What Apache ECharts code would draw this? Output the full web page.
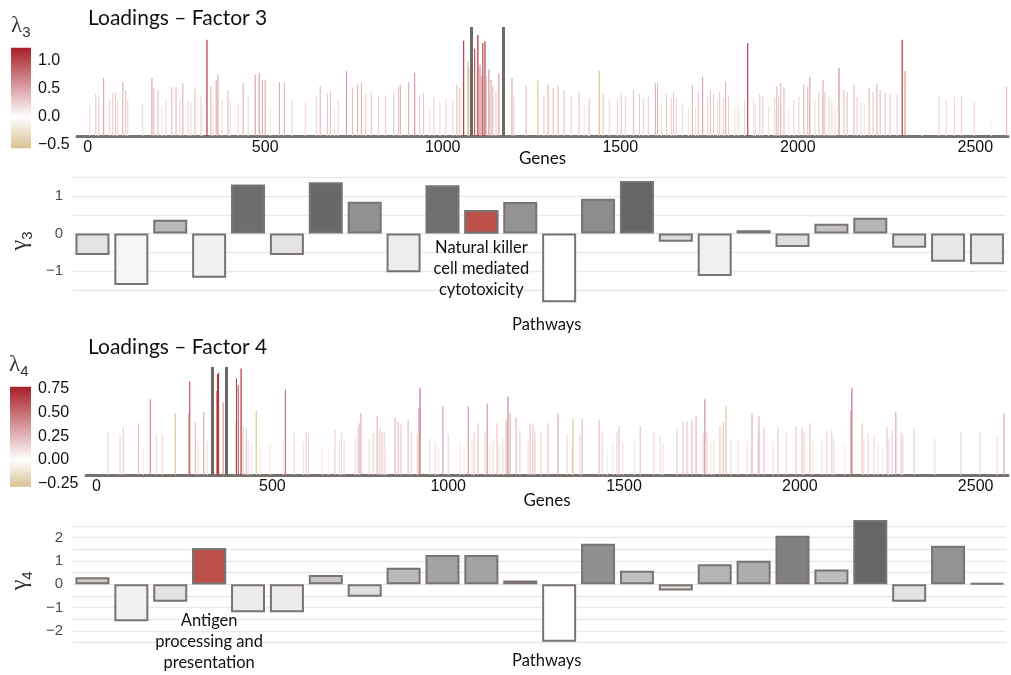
<!DOCTYPE html>
<html><head><meta charset="utf-8">
<script src="https://cdn.jsdelivr.net/npm/echarts@6/dist/echarts.min.js"></script>
<style>html,body{margin:0;padding:0;background:#fff}#c{width:1011px;height:675px}</style>
</head><body><div id="c"></div>
<script>
// ---------------- DATA ----------------
const geneTicks = [0, 500, 1000, 1500, 2000, 2500];
const geneRange = [-30, 2592];

// Factor 3 loadings: [gene index, loading] (negative = tan)
const f3Loadings = [
[6,0.375],[23,0.525],[31,0.49],[45,0.725],[62,0.45],[71,0.54],[79,0.55],[85,0.45],[99,0.675],[107,0.575],[113,0.46],[155,0.41],[181,0.725],[186,0.6],[198,0.575],[209,0.375],[220,0.45],[237,0.61],[249,0.61],[260,0.46],[268,0.66],[283,0.45],[291,0.425],[302,0.59],[319,0.49],[322,0.36],[336,1.2],[347,0.625],[353,0.41],[362,0.7],[367,0.76],[379,0.45],[395,0.575],[401,0.45],[424,0.4],[438,0.66],[452,0.49],[472,0.76],[483,0.79],[492,0.7],[500,0.7],[514,0.36],[540,0.675],[554,0.66],[576,0.45],[613,0.425],[644,0.49],[655,0.625],[675,0.54],[684,0.56],[695,0.36],[706,0.45],
[729,0.81],[746,0.6],[760,0.64],[771,0.66],[783,0.525],[799,0.54],[819,0.5],[839,0.5],[862,0.54],[876,0.61],[881,0.64],[904,0.675],[921,0.79],[935,0.51],[946,0.54],[963,0.36],[975,0.49],[992,0.425],[1009,0.46],[1028,0.45],[1040,0.64],[1048,0.6],[1059,1.19],[1071,-0.94],[1073,-0.86],[1090,1.09],[1099,1.26],[1105,0.89],[1110,0.75],[1113,1.16],[1119,1.18],[1122,0.74],[1130,0.83],[1136,0.7],[1141,0.625],[1150,0.55],[1158,0.78],[1195,0.725],[1201,0.49],[1235,0.625],[1268,-0.7],[1285,0.51],[1297,0.64],[1311,0.6],[1325,0.625],[1342,0.575],[1362,0.51],[1384,0.55],[1398,0.375],[1410,0.39],[1413,0.475],[1441,-0.81],[1452,0.525],[1469,0.46],[1492,0.45],[1503,0.54],[1514,0.49],[1537,0.575],[1554,0.525],[1565,0.475],[1579,0.49],[1599,0.66],[1605,0.66],[1616,0.41],[1630,0.525],
[1644,0.475],[1650,0.55],[1658,0.475],[1675,0.41],[1692,0.35],[1703,0.64],[1712,0.36],[1720,0.55],[1732,0.74],[1746,0.49],[1754,0.575],[1763,0.525],[1774,0.45],[1780,0.55],[1791,0.475],[1797,0.675],[1805,0.51],[1822,0.35],[1833,0.375],[1850,0.45],[1859,1.16],[1876,0.45],[1881,0.39],[1893,0.525],[1901,0.49],[1918,0.375],[1935,0.475],[1941,0.625],[1946,0.49],[1952,0.66],[1961,0.61],[1975,0.36],[1989,0.45],[2003,0.49],[2017,0.64],[2028,0.625],[2034,0.74],[2048,0.45],[2059,0.55],[2071,0.7],[2076,0.55],[2088,0.49],[2096,0.45],[2105,0.36],[2116,0.85],[2130,0.575],[2139,0.55],[2158,0.64],[2167,0.49],[2178,0.425],[2187,0.41],[2201,0.6],[2212,0.55],[2223,0.65],[2232,0.575],[2246,0.55],[2260,0.525],[2280,0.525],[2294,1.2],[2302,0.81],[2350,0.175],[2398,0.5],[2418,0.45],[2441,0.49],[2461,0.5],[2497,0.425],[2545,0.2],[2588,0.61]
];
// Factor 4 loadings
const f4Loadings = [
[33,0.31],[67,0.29],[76,0.34],[119,0.37],[133,0.2],[153,0.54],[170,0.29],[187,0.29],[224,-0.44],[262,0.44],[265,0.67],[281,0.38],[289,0.24],[305,0.45],[315,0.24],[342,0.6],[344,0.72],[347,0.73],[360,0.52],[397,0.38],[398,0.69],[403,0.64],[411,0.76],[417,0.34],[426,0.34],[431,0.26],[440,0.23],[454,-0.46],[465,0.2],[494,0.22],[531,0.25],[537,0.61],[562,0.3],[588,0.24],[596,0.31],[602,0.3],[642,0.2],[659,0.19],[678,0.32],[690,0.24],
[696,0.3],[704,0.25],[736,0.26],[744,0.34],[747,0.37],[752,0.44],[775,0.26],[787,0.3],[798,0.42],[806,0.34],[812,0.31],[818,0.31],[824,0.19],[849,0.41],[858,0.38],[866,0.36],[886,0.39],[895,0.31],[912,0.29],[917,0.48],[920,0.62],[948,0.26],[963,0.24],[971,0.2],[985,0.49],[1000,0.29],[1034,0.23],[1045,0.21],[1057,0.49],[1068,0.25],[1074,0.31],[1085,0.37],[1105,0.31],[1111,0.51],[1119,0.22],[1128,0.26],[1139,0.37],[1145,0.22],[1156,0.26],[1165,0.39],[1170,0.56],[1176,0.44],[1193,0.41],[1204,0.32],[1227,0.24],[1233,0.37],[1241,0.36],[1247,0.31],[1264,0.31],[1284,0.37],[1312,0.44],[1338,0.29],[1352,0.24],[1355,-0.4],[1375,0.29],[1381,0.4],[1429,0.39],[1438,0.31],[1452,0.18],[1469,0.23],[1480,0.31],[1486,0.35],[1497,0.23],[1529,0.24],[1546,0.35],[1585,0.31],[1603,0.28],
[1611,0.23],[1651,0.33],[1668,0.38],[1679,0.38],[1693,0.39],[1705,0.42],[1725,0.3],[1730,0.54],[1736,0.31],[1747,0.24],[1756,0.24],[1773,0.35],[1782,0.38],[1790,-0.49],[1804,0.25],[1824,0.25],[1850,0.24],[1864,0.44],[1881,0.3],[1884,0.42],[1898,0.34],[1924,0.24],[1938,0.34],[1961,0.3],[1989,0.35],[2006,0.34],[2012,0.31],[2029,0.37],[2037,0.24],[2063,0.24],[2077,0.31],[2091,0.32],[2097,0.26],[2128,0.21],[2145,0.46],[2148,0.62],[2177,0.37],[2182,0.26],[2194,0.3],[2211,0.29],[2222,0.23],[2236,0.2],[2248,0.34],[2253,0.26],[2262,0.32],[2273,0.45],[2288,0.31],[2293,0.29],[2325,0.33],[2384,0.26],[2458,0.31],[2512,0.31],[2561,0.27],[2581,0.44]
];
const f3PathwayBounds = [1080, 1170];
const f4PathwayBounds = [329, 369];
const f3ColorbarRange = [-0.56, 1.23];
const f4ColorbarRange = [-0.28, 0.77];
const f3ColorbarTicks = [-0.5, 0, 0.5, 1.0];
const f4ColorbarTicks = [-0.25, 0, 0.25, 0.5, 0.75];
const f3LoadMax = 1.36;
const f4LoadMax = 0.771;

const pathways = [1,2,3,4,5,6,7,8,9,10,11,12,13,14,15,16,17,18,19,20,21,22,23,24];
const gamma3 = [-0.57,-1.37,0.37,-1.18,1.31,-0.57,1.37,0.85,-1.03,1.29,0.62,0.84,-1.83,0.93,1.40,-0.22,-1.13,0.085,-0.36,0.26,0.42,-0.38,-0.75,-0.82];
const gamma4 = [0.30,-1.58,-0.75,1.55,-1.20,-1.20,0.40,-0.53,0.71,1.26,1.26,0.17,-2.46,1.74,0.58,-0.26,0.86,1.01,2.09,0.64,2.76,-0.75,1.66,0.05];
const gamma3Highlight = 10;
const gamma4Highlight = 3;
const gamma3Label = 'Natural killer\ncell mediated\ncytotoxicity';
const gamma4Label = 'Antigen\nprocessing and\npresentation';
const gamma3Range = [-1.9, 1.5];
const gamma4Range = [-2.5, 2.8];
const gamma3Grid = [-1.5, -1, -0.5, 0, 0.5, 1, 1.5];
const gamma4Grid = [-2.5, -2, -1.5, -1, -0.5, 0, 0.5, 1, 1.5, 2, 2.5];
const gamma3Ticks = [-1, 0, 1];
const gamma4Ticks = [-2, -1, 0, 1, 2];

// ---------------- STYLE HELPERS ----------------
const RED = [168, 30, 38], TAN = [218, 194, 145], WHITE = [255, 255, 255];
const TXT = '#111';
function mix(a, b, t) { t = Math.max(0, Math.min(1, t)); return 'rgb(' + a.map((x, i) => Math.round(x + (b[i] - x) * t)).join(',') + ')'; }
function loadColor(v, r) {
  const t = v >= 0 ? v / r[1] : v / r[0];
  const tt = Math.pow(Math.max(0, Math.min(1, t)), 1.7);
  return v >= 0 ? mix(WHITE, RED, tt) : mix(WHITE, TAN, tt);
}
function grayFor(v, arr) {
  const mx = Math.max(...arr), mn = Math.min(...arr);
  const g = Math.round(v >= 0 ? 215 - 113 * v / mx : 215 + 40 * v / mn);
  return 'rgb(' + g + ',' + g + ',' + g + ')';
}
const minus = s => String(s).replace('-', '\u2212');

function loadingSeries(xi, yi, loads, bounds, cbRange) {
  return {
    type: 'bar', xAxisIndex: xi, yAxisIndex: yi, barWidth: 1.1, z: 2,
    data: loads.map(d => ({ value: [d[0], Math.abs(d[1])], itemStyle: { color: loadColor(d[1], cbRange) } })),
    markLine: { silent: true, symbol: 'none', animation: false, label: { show: false }, z: 6,
      lineStyle: { color: '#6d6967', width: 3, type: 'solid' },
      data: bounds.map(g => ({ xAxis: g })) }
  };
}
function colorbarSeries(xi, yi, r) {
  return {
    type: 'custom', xAxisIndex: xi, yAxisIndex: yi, silent: true,
    data: [[0, r[0], r[1]]],
    renderItem: (params, api) => {
      const p0 = api.coord([0, api.value(1)]);
      const p1 = api.coord([1, api.value(2)]);
      const z = (0 - r[0]) / (r[1] - r[0]);
      return { type: 'rect', shape: { x: p0[0], y: p1[1], width: p1[0] - p0[0], height: p0[1] - p1[1] },
        style: { fill: new echarts.graphic.LinearGradient(0, 1, 0, 0, [
          { offset: 0, color: mix(WHITE, TAN, 1) }, { offset: z, color: '#ffffff' }, { offset: 1, color: mix(WHITE, RED, 1) }]) } };
    }
  };
}
function gammaSeries(xi, yi, vals, grid, hl, label, labelDist) {
  return [
    { type: 'line', xAxisIndex: xi, yAxisIndex: yi, data: vals, showSymbol: false, silent: true,
      lineStyle: { opacity: 0 }, z: 0,
      markLine: { silent: true, symbol: 'none', animation: false, label: { show: false }, z: 0,
        lineStyle: { color: '#e9e9e9', width: 1.3, type: 'solid' }, data: grid.map(v => ({ yAxis: v })) } },
    { type: 'bar', xAxisIndex: xi, yAxisIndex: yi, barWidth: 34, barGap: '-100%', z: 10,
      itemStyle: { borderColor: '#7a7370', borderWidth: 2 },
      data: vals.map(v => ({ value: v, itemStyle: { color: grayFor(v, vals) } })) },
    { type: 'bar', xAxisIndex: xi, yAxisIndex: yi, barWidth: 34, barGap: '-100%', z: 11,
      itemStyle: { color: '#bc4f47', borderColor: '#7a7370', borderWidth: 2 },
      label: { show: true, position: 'bottom', distance: labelDist, formatter: label,
        fontFamily: 'Lato', fontSize: 16.5, lineHeight: 21, color: TXT },
      data: vals.map((v, i) => i === hl ? v : '-') }
  ];
}
function geneXAxis(idx, nameGap) {
  return { gridIndex: idx, type: 'value', min: geneRange[0], max: geneRange[1],
    axisLine: { show: true, onZero: false, lineStyle: { color: '#767270', width: 3 } },
    axisTick: { show: false }, splitLine: { show: false },
    axisLabel: { customValues: geneTicks, margin: 4, fontSize: 16, color: TXT, fontFamily: 'Liberation Sans',
      formatter: v => String(v) },
    name: 'Genes', nameLocation: 'middle', nameGap: nameGap, nameMoveOverlap: false,
    nameTextStyle: { fontFamily: 'Lato', fontSize: 17, color: TXT } };
}
function cbYAxes(idx, r, ticks, dec) {
  return [
    { gridIndex: idx, type: 'value', min: r[0], max: r[1], position: 'right',
      axisLine: { show: false }, splitLine: { show: false },
      axisTick: { show: true, inside: true, length: 4, customValues: ticks, lineStyle: { color: '#ffffff', width: 1 } },
      axisLabel: { customValues: ticks, margin: 7, fontSize: 16, color: TXT, fontFamily: 'Liberation Sans',
        formatter: v => minus(v.toFixed(dec)) } },
    { gridIndex: idx, type: 'value', min: r[0], max: r[1], position: 'left',
      axisLine: { show: false }, splitLine: { show: false }, axisLabel: { show: false },
      axisTick: { show: true, inside: true, length: 4, customValues: ticks, lineStyle: { color: '#ffffff', width: 1 } } }
  ];
}
function gammaYAxis(idx, r, ticks, sub) {
  return { gridIndex: idx, type: 'value', min: r[0], max: r[1],
    axisLine: { show: false }, axisTick: { show: false }, splitLine: { show: false },
    axisLabel: { customValues: ticks, margin: 10, fontSize: 15, color: '#4d4d4d', fontFamily: 'Liberation Sans',
      formatter: v => minus(v) },
    name: '{g|\u03b3}{s|' + sub + '}', nameLocation: 'middle', nameRotate: 90, nameGap: 33,
    nameTextStyle: { rich: {
      g: { fontSize: 24, fontFamily: 'Liberation Serif', fontWeight: 'normal', color: '#333', lineHeight: 30, verticalAlign: 'middle' },
      s: { fontSize: 15, fontFamily: 'Liberation Sans', fontWeight: 'normal', color: '#333', lineHeight: 15, verticalAlign: 'bottom' } } } };
}
function catXAxis(idx, nameGap) {
  return { gridIndex: idx, type: 'category', data: pathways,
    axisLine: { show: false, onZero: false }, axisTick: { show: false }, axisLabel: { show: false },
    name: 'Pathways', nameLocation: 'middle', nameGap: nameGap,
    nameTextStyle: { fontFamily: 'Lato', fontSize: 16.5, color: TXT, padding: [0, 0, 0, 14] } };
}

const titleRich = {
  l: { fontSize: 23, fontFamily: 'Liberation Serif', fontWeight: 'normal', color: '#333', lineHeight: 28, verticalAlign: 'middle' },
  s: { fontSize: 15, fontFamily: 'Liberation Sans', fontWeight: 'normal', color: '#333', lineHeight: 15, verticalAlign: 'bottom' }
};

const option = {
  animation: false,
  backgroundColor: '#ffffff',
  title: [
    { text: 'Loadings \u2013 Factor 3', left: 83, top: 3, textStyle: { fontFamily: 'Lato', fontSize: 21, fontWeight: 'normal', color: TXT } },
    { text: 'Loadings \u2013 Factor 4', left: 83, top: 332, textStyle: { fontFamily: 'Lato', fontSize: 21, fontWeight: 'normal', color: TXT } },
    { text: '{l|\u03bb}{s|3}', left: 6, top: 7, textStyle: { fontWeight: 'normal', rich: titleRich } },
    { text: '{l|\u03bb}{s|4}', left: 4, top: 346, textStyle: { fontWeight: 'normal', rich: titleRich } }
  ],
  grid: [
    { left: 77, right: 3, top: 27, height: 109 },
    { left: 11, width: 20, top: 47.7, height: 100.6 },
    { left: 71.8, right: 4.6, top: 177.25, height: 127.5 },
    { left: 86, right: 3, top: 367, height: 108 },
    { left: 10, width: 21, top: 386.7, height: 100 },
    { left: 71.8, right: 4.6, top: 519.1, height: 123.5 }
  ],
  xAxis: [
    geneXAxis(0, 14),
    { gridIndex: 1, type: 'value', min: 0, max: 1, show: false },
    catXAxis(2, 11),
    geneXAxis(3, 17),
    { gridIndex: 4, type: 'value', min: 0, max: 1, show: false },
    catXAxis(5, 10)
  ],
  yAxis: [
    { gridIndex: 0, type: 'value', min: 0, max: f3LoadMax, show: false },
    ...cbYAxes(1, f3ColorbarRange, f3ColorbarTicks, 1),
    gammaYAxis(2, gamma3Range, gamma3Ticks, '3'),
    { gridIndex: 3, type: 'value', min: 0, max: f4LoadMax, show: false },
    ...cbYAxes(4, f4ColorbarRange, f4ColorbarTicks, 2),
    gammaYAxis(5, gamma4Range, gamma4Ticks, '4')
  ],
  series: [
    loadingSeries(0, 0, f3Loadings, f3PathwayBounds, f3ColorbarRange),
    colorbarSeries(1, 1, f3ColorbarRange),
    ...gammaSeries(2, 3, gamma3, gamma3Grid, gamma3Highlight, gamma3Label, 4),
    loadingSeries(3, 4, f4Loadings, f4PathwayBounds, f4ColorbarRange),
    colorbarSeries(4, 5, f4ColorbarRange),
    ...gammaSeries(5, 7, gamma4, gamma4Grid, gamma4Highlight, gamma4Label, 26)
  ]
};

const chart = echarts.init(document.getElementById('c'), null, { renderer: 'canvas' });
chart.setOption(option);
</script>
</body></html>
